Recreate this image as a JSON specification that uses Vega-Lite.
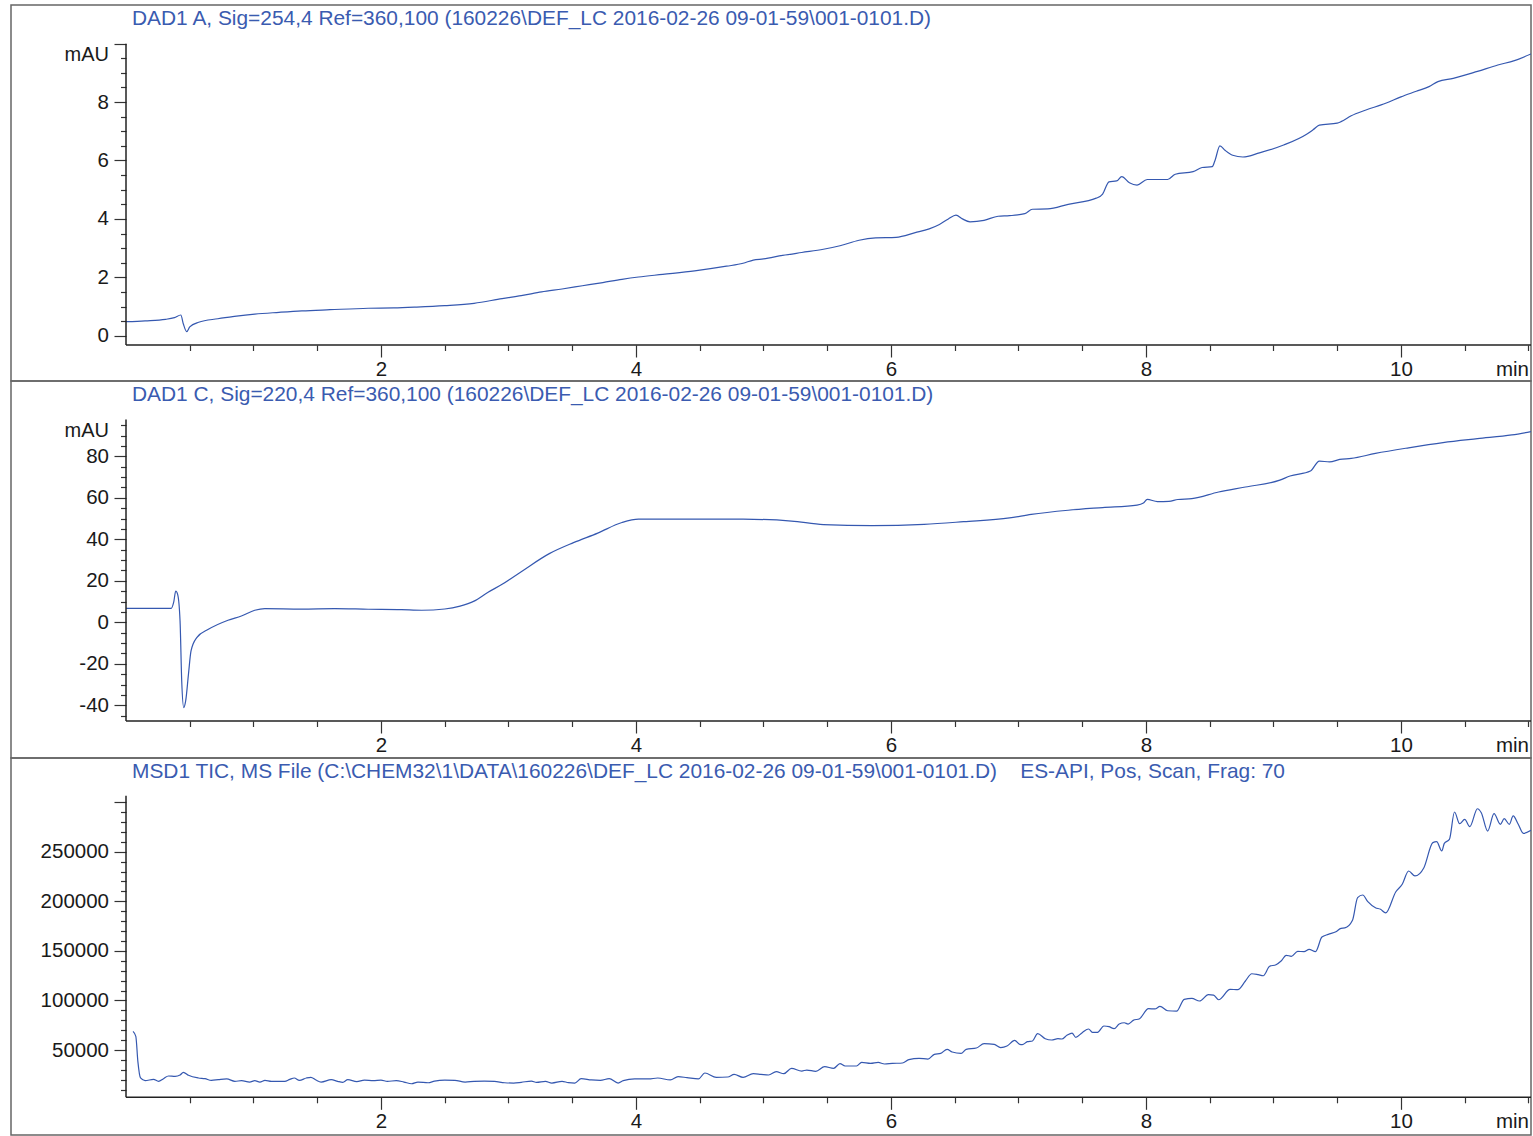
{
  "$schema": "https://vega.github.io/schema/vega-lite/v6.json",
  "background": "white",
  "padding": {"left": 10, "top": 4, "right": 2, "bottom": 1},
  "spacing": 0,
  "bounds": "flush",
  "config": {
    "view": {"stroke": "#666666", "strokeWidth": 1.5},
    "font": "Liberation Sans",
    "axis": {"labelFont": "Liberation Sans", "labelFontSize": 20.5, "labelColor": "#1a1a1a", "tickColor": "#333333", "tickWidth": 1.2, "grid": false, "domain": false, "labelOverlap": false, "labelBound": false, "labelFlush": false, "tickCount": 500},
    "title": {"font": "Liberation Sans", "fontSize": 20.9, "fontWeight": "normal", "color": "#3a5bb0", "anchor": "start", "frame": "group", "baseline": "alphabetic", "offset": -24.3, "dx": 121}
  },
  "datasets": {
    "dad_a": [
      {"t":0,"v":0.48},{"t":0.15,"v":0.51},{"t":0.31,"v":0.56},{"t":0.38,"v":0.62},{"t":0.43,"v":0.71},{"t":0.45,"v":0.4},{"t":0.476,"v":0.14},{"t":0.5,"v":0.3},{"t":0.57,"v":0.46},{"t":0.72,"v":0.58},{"t":0.85,"v":0.66},{"t":1.01,"v":0.74},{"t":1.2,"v":0.8},{"t":1.38,"v":0.85},{"t":1.6,"v":0.89},{"t":1.9,"v":0.94},{"t":2.1,"v":0.95},{"t":2.28,"v":0.98},{"t":2.5,"v":1.03},{"t":2.73,"v":1.11},{"t":2.95,"v":1.27},{"t":3.1,"v":1.37},{"t":3.26,"v":1.5},{"t":3.42,"v":1.6},{"t":3.58,"v":1.71},{"t":3.74,"v":1.82},{"t":3.89,"v":1.93},{"t":4.02,"v":2.01},{"t":4.21,"v":2.1},{"t":4.46,"v":2.22},{"t":4.71,"v":2.38},{"t":4.84,"v":2.48},{"t":4.92,"v":2.59},{"t":5.0,"v":2.63},{"t":5.15,"v":2.75},{"t":5.3,"v":2.85},{"t":5.47,"v":2.96},{"t":5.6,"v":3.08},{"t":5.75,"v":3.27},{"t":5.88,"v":3.35},{"t":6.04,"v":3.37},{"t":6.19,"v":3.53},{"t":6.3,"v":3.66},{"t":6.38,"v":3.81},{"t":6.45,"v":4.0},{"t":6.51,"v":4.13},{"t":6.56,"v":4.0},{"t":6.62,"v":3.9},{"t":6.73,"v":3.95},{"t":6.84,"v":4.09},{"t":6.93,"v":4.11},{"t":7.05,"v":4.18},{"t":7.11,"v":4.33},{"t":7.23,"v":4.34},{"t":7.39,"v":4.5},{"t":7.61,"v":4.71},{"t":7.66,"v":4.85},{"t":7.71,"v":5.27},{"t":7.77,"v":5.3},{"t":7.81,"v":5.45},{"t":7.87,"v":5.24},{"t":7.93,"v":5.16},{"t":8.01,"v":5.35},{"t":8.17,"v":5.35},{"t":8.23,"v":5.53},{"t":8.37,"v":5.62},{"t":8.44,"v":5.76},{"t":8.52,"v":5.79},{"t":8.54,"v":5.98},{"t":8.58,"v":6.5},{"t":8.62,"v":6.35},{"t":8.68,"v":6.18},{"t":8.76,"v":6.12},{"t":8.89,"v":6.26},{"t":9.08,"v":6.53},{"t":9.26,"v":6.9},{"t":9.31,"v":7.05},{"t":9.36,"v":7.21},{"t":9.5,"v":7.28},{"t":9.53,"v":7.33},{"t":9.61,"v":7.53},{"t":9.72,"v":7.72},{"t":9.88,"v":7.96},{"t":10.0,"v":8.18},{"t":10.12,"v":8.37},{"t":10.22,"v":8.53},{"t":10.29,"v":8.7},{"t":10.41,"v":8.81},{"t":10.6,"v":9.05},{"t":10.76,"v":9.27},{"t":10.89,"v":9.42},{"t":11.02,"v":9.65}
    ],
    "dad_c": [
      {"t":0,"v":6.75},{"t":0.354,"v":6.75},{"t":0.375,"v":10},{"t":0.39,"v":15.1},{"t":0.405,"v":13.5},{"t":0.424,"v":0.6},{"t":0.437,"v":-28.3},{"t":0.453,"v":-41.1},{"t":0.468,"v":-37.9},{"t":0.49,"v":-25},{"t":0.51,"v":-13.8},{"t":0.555,"v":-7.4},{"t":0.646,"v":-3.4},{"t":0.8,"v":1.0},{"t":0.905,"v":3.05},{"t":1.01,"v":5.8},{"t":1.089,"v":6.6},{"t":1.376,"v":6.4},{"t":1.637,"v":6.6},{"t":1.9,"v":6.3},{"t":2.16,"v":6.1},{"t":2.32,"v":5.8},{"t":2.5,"v":6.4},{"t":2.62,"v":7.8},{"t":2.73,"v":10.2},{"t":2.84,"v":14.5},{"t":2.95,"v":18.3},{"t":3.1,"v":24.4},{"t":3.32,"v":33.1},{"t":3.51,"v":38.4},{"t":3.7,"v":43.0},{"t":3.89,"v":48.1},{"t":4.02,"v":49.7},{"t":4.4,"v":49.7},{"t":4.84,"v":49.7},{"t":5.22,"v":48.8},{"t":5.47,"v":47.1},{"t":5.85,"v":46.6},{"t":6.26,"v":47.2},{"t":6.57,"v":48.5},{"t":6.93,"v":50.3},{"t":7.1,"v":52.0},{"t":7.39,"v":54.0},{"t":7.66,"v":55.3},{"t":7.93,"v":56.5},{"t":7.98,"v":57.5},{"t":8.01,"v":59.2},{"t":8.09,"v":58.2},{"t":8.18,"v":58.3},{"t":8.25,"v":59.2},{"t":8.36,"v":59.6},{"t":8.57,"v":62.8},{"t":8.78,"v":65.2},{"t":9.05,"v":68.5},{"t":9.13,"v":70.5},{"t":9.29,"v":72.9},{"t":9.36,"v":77.7},{"t":9.44,"v":77.3},{"t":9.52,"v":78.5},{"t":9.61,"v":79.0},{"t":9.8,"v":81.4},{"t":10.06,"v":84.1},{"t":10.33,"v":86.6},{"t":10.6,"v":88.5},{"t":10.87,"v":90.3},{"t":11.02,"v":91.9}
    ],
    "tic": [
      {"t":0.055,"v":68800},{"t":0.077,"v":63800},{"t":0.093,"v":38600},{"t":0.114,"v":21800},{"t":0.15,"v":19100},{"t":0.216,"v":20400},{"t":0.255,"v":18400},{"t":0.294,"v":21100},{"t":0.333,"v":23800},{"t":0.385,"v":23450},{"t":0.424,"v":24800},{"t":0.45,"v":27500},{"t":0.49,"v":24500},{"t":0.568,"v":21800},{"t":0.62,"v":21100},{"t":0.67,"v":19400},{"t":0.724,"v":20100},{"t":0.79,"v":20800},{"t":0.854,"v":18400},{"t":0.906,"v":19100},{"t":0.97,"v":17700},{"t":1.01,"v":19100},{"t":1.05,"v":17700},{"t":1.09,"v":19400},{"t":1.14,"v":18400},{"t":1.245,"v":18400},{"t":1.285,"v":20400},{"t":1.32,"v":21800},{"t":1.36,"v":19400},{"t":1.415,"v":21800},{"t":1.45,"v":22500},{"t":1.49,"v":19700},{"t":1.53,"v":17700},{"t":1.61,"v":20100},{"t":1.66,"v":18400},{"t":1.7,"v":17400},{"t":1.74,"v":20100},{"t":1.81,"v":18100},{"t":1.87,"v":19700},{"t":1.94,"v":19100},{"t":2.0,"v":19700},{"t":2.05,"v":18400},{"t":2.12,"v":19100},{"t":2.18,"v":17700},{"t":2.24,"v":16000},{"t":2.29,"v":17700},{"t":2.37,"v":17000},{"t":2.42,"v":18700},{"t":2.5,"v":19700},{"t":2.58,"v":19400},{"t":2.66,"v":17700},{"t":2.73,"v":18400},{"t":2.81,"v":18700},{"t":2.89,"v":18400},{"t":2.97,"v":17000},{"t":3.04,"v":16700},{"t":3.1,"v":17400},{"t":3.18,"v":18700},{"t":3.22,"v":17400},{"t":3.29,"v":18400},{"t":3.34,"v":16700},{"t":3.42,"v":18400},{"t":3.47,"v":17060},{"t":3.52,"v":16700},{"t":3.57,"v":21100},{"t":3.65,"v":19800},{"t":3.72,"v":19420},{"t":3.79,"v":21100},{"t":3.86,"v":16700},{"t":3.9,"v":19100},{"t":3.99,"v":20800},{"t":4.1,"v":20800},{"t":4.17,"v":21800},{"t":4.27,"v":19800},{"t":4.33,"v":23100},{"t":4.4,"v":22100},{"t":4.49,"v":20800},{"t":4.54,"v":26800},{"t":4.63,"v":22400},{"t":4.72,"v":22770},{"t":4.77,"v":25460},{"t":4.84,"v":22400},{"t":4.92,"v":26100},{"t":4.98,"v":25460},{"t":5.04,"v":24800},{"t":5.1,"v":28150},{"t":5.16,"v":26100},{"t":5.22,"v":31500},{"t":5.3,"v":28800},{"t":5.34,"v":29800},{"t":5.41,"v":28500},{"t":5.48,"v":33200},{"t":5.55,"v":31500},{"t":5.6,"v":36200},{"t":5.64,"v":33860},{"t":5.73,"v":33860},{"t":5.77,"v":37500},{"t":5.84,"v":36500},{"t":5.9,"v":37500},{"t":5.95,"v":35900},{"t":6.01,"v":36500},{"t":6.09,"v":36900},{"t":6.14,"v":40250},{"t":6.22,"v":41600},{"t":6.29,"v":40900},{"t":6.34,"v":45630},{"t":6.39,"v":46600},{"t":6.44,"v":50670},{"t":6.48,"v":48000},{"t":6.55,"v":46600},{"t":6.59,"v":50670},{"t":6.67,"v":52000},{"t":6.73,"v":56400},{"t":6.81,"v":55720},{"t":6.86,"v":52500},{"t":6.91,"v":54000},{"t":6.97,"v":59800},{"t":7.01,"v":55700},{"t":7.03,"v":55400},{"t":7.07,"v":58400},{"t":7.11,"v":59100},{"t":7.15,"v":66500},{"t":7.21,"v":61400},{"t":7.26,"v":60100},{"t":7.31,"v":61400},{"t":7.34,"v":61100},{"t":7.38,"v":64800},{"t":7.42,"v":67100},{"t":7.45,"v":62800},{"t":7.5,"v":67500},{"t":7.55,"v":71200},{"t":7.58,"v":67800},{"t":7.62,"v":67800},{"t":7.67,"v":74200},{"t":7.71,"v":73500},{"t":7.75,"v":71500},{"t":7.79,"v":76200},{"t":7.83,"v":77500},{"t":7.86,"v":76200},{"t":7.9,"v":79900},{"t":7.95,"v":81600},{"t":8.02,"v":91700},{"t":8.07,"v":91400},{"t":8.11,"v":94000},{"t":8.17,"v":89600},{"t":8.24,"v":89200},{"t":8.3,"v":101100},{"t":8.36,"v":102100},{"t":8.42,"v":99400},{"t":8.49,"v":105800},{"t":8.53,"v":105400},{"t":8.57,"v":100700},{"t":8.66,"v":111200},{"t":8.72,"v":110800},{"t":8.78,"v":119600},{"t":8.83,"v":126900},{"t":8.88,"v":126000},{"t":8.92,"v":124900},{"t":8.97,"v":134400},{"t":9.02,"v":136000},{"t":9.06,"v":139700},{"t":9.1,"v":145500},{"t":9.14,"v":144500},{"t":9.19,"v":149500},{"t":9.24,"v":149200},{"t":9.28,"v":151500},{"t":9.33,"v":149200},{"t":9.38,"v":163900},{"t":9.43,"v":166600},{"t":9.49,"v":169300},{"t":9.53,"v":172700},{"t":9.56,"v":173100},{"t":9.62,"v":180800},{"t":9.66,"v":203600},{"t":9.7,"v":206300},{"t":9.74,"v":199600},{"t":9.8,"v":193500},{"t":9.84,"v":191900},{"t":9.88,"v":188200},{"t":9.96,"v":209600},{"t":10.01,"v":217100},{"t":10.06,"v":230500},{"t":10.11,"v":225500},{"t":10.18,"v":233800},{"t":10.25,"v":259100},{"t":10.28,"v":260100},{"t":10.32,"v":250700},{"t":10.34,"v":258400},{"t":10.38,"v":262400},{"t":10.42,"v":290000},{"t":10.46,"v":278200},{"t":10.5,"v":282600},{"t":10.54,"v":275200},{"t":10.6,"v":293300},{"t":10.63,"v":289300},{"t":10.68,"v":270800},{"t":10.73,"v":288300},{"t":10.78,"v":277600},{"t":10.81,"v":283300},{"t":10.85,"v":277600},{"t":10.88,"v":286000},{"t":10.92,"v":277600},{"t":10.96,"v":268500},{"t":11.02,"v":271500}
    ]
  },
  "vconcat": [
    {
      "width": 1520, "height": 376,
      "title": {"text": "DAD1 A, Sig=254,4 Ref=360,100 (160226\\DEF_LC 2016-02-26 09-01-59\\001-0101.D)"},
      "layer": [
        {
          "data": {"name": "dad_a"},
          "mark": {"type": "line", "color": "#3558b0", "strokeWidth": 1.2, "interpolate": "monotone", "clip": true},
          "encoding": {
            "x": {"field": "t", "type": "quantitative", "scale": {"domain": [-0.902, 11.02], "nice": false, "zero": false},
              "axis": {"title": null, "offset": -36, "tickCount": 500, "values": [0.5,1,1.5,2,2.5,3,3.5,4,4.5,5,5.5,6,6.5,7,7.5,8,8.5,9,9.5,10,10.5,11],
                "tickSize": {"condition": {"test": "datum.value % 2 === 0", "value": 12}, "value": 5.5},
                "labelAlign": {"condition": {"test": "datum.value === 11", "value": "right"}, "value": "center"},
                "labelPadding": {"condition": {"test": "datum.value === 11", "value": 8.5}, "value": 2},
                "labelExpr": "datum.value === 11 ? 'min' : (datum.value % 2 === 0 ? '' + datum.value : '')"}},
            "y": {"field": "v", "type": "quantitative", "scale": {"domain": [-1.551, 11.325], "nice": false, "zero": false},
              "axis": {"title": "mAU", "offset": -115, "tickCount": 500, "titleAngle": 0, "titleAlign": "right", "titleBaseline": "middle", "titleX": -17.5, "titleY": 49, "titleFont": "Liberation Sans", "titleFontSize": 20, "titleFontWeight": "normal", "titleColor": "#1a1a1a",
                "values": [0,0.5,1,1.5,2,2.5,3,3.5,4,4.5,5,5.5,6,6.5,7,7.5,8,8.5,9,9.5,10],
                "tickSize": {"condition": {"test": "datum.value % 2 === 0", "value": 12}, "value": 5.5},
                "labelPadding": 5.5,
                "labelExpr": "datum.value % 2 === 0 && datum.value < 10 ? '' + datum.value : ''"}}
          }
        },
        {
          "data": {"values": [{}]},
          "mark": {"type": "rule", "color": "#222222", "strokeWidth": 1.5},
          "encoding": {"x": {"datum": 0}, "y": {"datum": -0.318}, "y2": {"datum": 10}}
        },
        {
          "data": {"values": [{}]},
          "mark": {"type": "rule", "color": "#222222", "strokeWidth": 1.5},
          "encoding": {"x": {"datum": 0}, "x2": {"datum": 11.02}, "y": {"datum": -0.318}}
        }
      ]
    },
    {
      "width": 1520, "height": 377,
      "title": {"text": "DAD1 C, Sig=220,4 Ref=360,100 (160226\\DEF_LC 2016-02-26 09-01-59\\001-0101.D)"},
      "layer": [
        {
          "data": {"name": "dad_c"},
          "mark": {"type": "line", "color": "#3558b0", "strokeWidth": 1.2, "interpolate": "monotone", "clip": true},
          "encoding": {
            "x": {"field": "t", "type": "quantitative", "scale": {"domain": [-0.902, 11.02], "nice": false, "zero": false},
              "axis": {"title": null, "offset": -37, "tickCount": 500, "values": [0.5,1,1.5,2,2.5,3,3.5,4,4.5,5,5.5,6,6.5,7,7.5,8,8.5,9,9.5,10,10.5,11],
                "tickSize": {"condition": {"test": "datum.value % 2 === 0", "value": 12}, "value": 5.5},
                "labelAlign": {"condition": {"test": "datum.value === 11", "value": "right"}, "value": "center"},
                "labelPadding": {"condition": {"test": "datum.value === 11", "value": 8.5}, "value": 2},
                "labelExpr": "datum.value === 11 ? 'min' : (datum.value % 2 === 0 ? '' + datum.value : '')"}},
            "y": {"field": "v", "type": "quantitative", "scale": {"domain": [-65.4, 116.3], "nice": false, "zero": false},
              "axis": {"title": "mAU", "offset": -115, "tickCount": 500, "titleAngle": 0, "titleAlign": "right", "titleBaseline": "middle", "titleX": -17.5, "titleY": 49.3, "titleFont": "Liberation Sans", "titleFontSize": 20, "titleFontWeight": "normal", "titleColor": "#1a1a1a",
                "values": [-45,-40,-35,-30,-25,-20,-15,-10,-5,0,5,10,15,20,25,30,35,40,45,50,55,60,65,70,75,80,85,90,95],
                "tickSize": {"condition": {"test": "datum.value % 20 === 0", "value": 12}, "value": 5.5},
                "labelPadding": 5.5,
                "labelExpr": "datum.value % 20 === 0 ? '' + datum.value : ''"}}
          }
        },
        {
          "data": {"values": [{}]},
          "mark": {"type": "rule", "color": "#222222", "strokeWidth": 1.5},
          "encoding": {"x": {"datum": 0}, "y": {"datum": -47.6}, "y2": {"datum": 97.8}}
        },
        {
          "data": {"values": [{}]},
          "mark": {"type": "rule", "color": "#222222", "strokeWidth": 1.5},
          "encoding": {"x": {"datum": 0}, "x2": {"datum": 11.02}, "y": {"datum": -47.6}}
        }
      ]
    },
    {
      "width": 1520, "height": 377,
      "title": {"text": "MSD1 TIC, MS File (C:\\CHEM32\\1\\DATA\\160226\\DEF_LC 2016-02-26 09-01-59\\001-0101.D)\u00a0\u00a0\u00a0 ES-API, Pos, Scan, Frag: 70"},
      "layer": [
        {
          "data": {"name": "tic"},
          "mark": {"type": "line", "color": "#3558b0", "strokeWidth": 1.2, "interpolate": "monotone", "clip": true},
          "encoding": {
            "x": {"field": "t", "type": "quantitative", "scale": {"domain": [-0.902, 11.02], "nice": false, "zero": false},
              "axis": {"title": null, "offset": -37.7, "tickCount": 500, "values": [0.5,1,1.5,2,2.5,3,3.5,4,4.5,5,5.5,6,6.5,7,7.5,8,8.5,9,9.5,10,10.5,11],
                "tickSize": {"condition": {"test": "datum.value % 2 === 0", "value": 12}, "value": 5.5},
                "labelAlign": {"condition": {"test": "datum.value === 11", "value": "right"}, "value": "center"},
                "labelPadding": {"condition": {"test": "datum.value === 11", "value": 8.5}, "value": 2},
                "labelExpr": "datum.value === 11 ? 'min' : (datum.value % 2 === 0 ? '' + datum.value : '')"}},
            "y": {"field": "v", "type": "quantitative", "scale": {"domain": [-35700, 344450], "nice": false, "zero": false},
              "axis": {"title": null, "offset": -115, "tickCount": 500,
                "values": [10000,20000,30000,40000,50000,60000,70000,80000,90000,100000,110000,120000,130000,140000,150000,160000,170000,180000,190000,200000,210000,220000,230000,240000,250000,260000,270000,280000,290000,300000],
                "tickSize": {"condition": {"test": "datum.value % 50000 === 0", "value": 12}, "value": 5.5},
                "labelPadding": 5.5,
                "labelExpr": "datum.value % 50000 === 0 && datum.value < 300000 ? '' + datum.value : ''"}}
          }
        },
        {
          "data": {"values": [{}]},
          "mark": {"type": "rule", "color": "#222222", "strokeWidth": 1.5},
          "encoding": {"x": {"datum": 0}, "y": {"datum": 2300}, "y2": {"datum": 306400}}
        },
        {
          "data": {"values": [{}]},
          "mark": {"type": "rule", "color": "#222222", "strokeWidth": 1.5},
          "encoding": {"x": {"datum": 0}, "x2": {"datum": 11.02}, "y": {"datum": 2300}}
        }
      ]
    }
  ]
}
